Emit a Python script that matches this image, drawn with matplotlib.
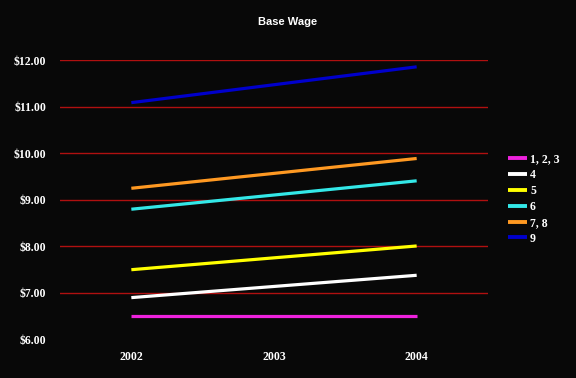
import matplotlib
matplotlib.use("Agg")
import matplotlib.pyplot as plt

years = [2002, 2003, 2004]
series_labels = ["1, 2, 3", "4", "5", "6", "7, 8", "9"]
wage_123 = [6.50, 6.50, 6.50]
wage_4 = [6.90, 7.14, 7.38]
wage_5 = [7.50, 7.755, 8.01]
wage_6 = [8.80, 9.105, 9.41]
wage_78 = [9.25, 9.57, 9.89]
wage_9 = [11.09, 11.475, 11.86]
series_values = [wage_123, wage_4, wage_5, wage_6, wage_78, wage_9]
colors = ["#EE22DD", "#FFFFFF", "#FFFF00", "#33E8E8", "#FF9922", "#0000CC"]
yticks = [6, 7, 8, 9, 10, 11, 12]
ytick_labels = ["$6.00", "$7.00", "$8.00", "$9.00", "$10.00", "$11.00", "$12.00"]

bg = "#080808"
fig = plt.figure(figsize=(5.76, 3.78), dpi=100, facecolor=bg)
ax = fig.add_axes([60/576, 1 - 339.5/378, 428/576, (339.5 - 60.3)/378], facecolor=bg)

for vals, lab, c in zip(series_values, series_labels, colors):
    ax.plot(years, vals, color=c, linewidth=2.3, label=lab, solid_capstyle="butt")

ax.set_xlim(2001.5, 2004.5)
ax.set_ylim(6, 12)
ax.set_yticks(yticks)
ax.set_yticklabels(ytick_labels)
ax.set_xticks(years)
ax.set_xticklabels([str(y) for y in years])
for y in yticks[1:]:
    ax.axhline(y, color="#B01010", linewidth=1.0, zorder=0)
for s in ax.spines.values():
    s.set_visible(False)
ax.tick_params(axis="both", length=0, colors="white")
ax.tick_params(axis="y", pad=10)
ax.tick_params(axis="x", pad=8)
for t in ax.get_yticklabels() + ax.get_xticklabels():
    t.set_fontfamily("Liberation Serif")
    t.set_fontweight("bold")
    t.set_fontsize(8.5)
    t.set_color("white")

fig.text(0.5, 1 - 22/378, "Base Wage", ha="center", va="center", color="white",
         fontsize=8, fontweight="bold", family="Liberation Sans")

leg = fig.legend(loc="upper left", bbox_to_anchor=(497/576, 1 - 143/378),
                 frameon=False, handlelength=1.6, handletextpad=0.3,
                 labelspacing=0.32, prop={"family": "Liberation Serif", "weight": "bold", "size": 8.5})
for t in leg.get_texts():
    t.set_color("white")
for h in leg.get_lines():
    h.set_linewidth(2.8)

fig.savefig("out.png", dpi=100, facecolor=bg)
